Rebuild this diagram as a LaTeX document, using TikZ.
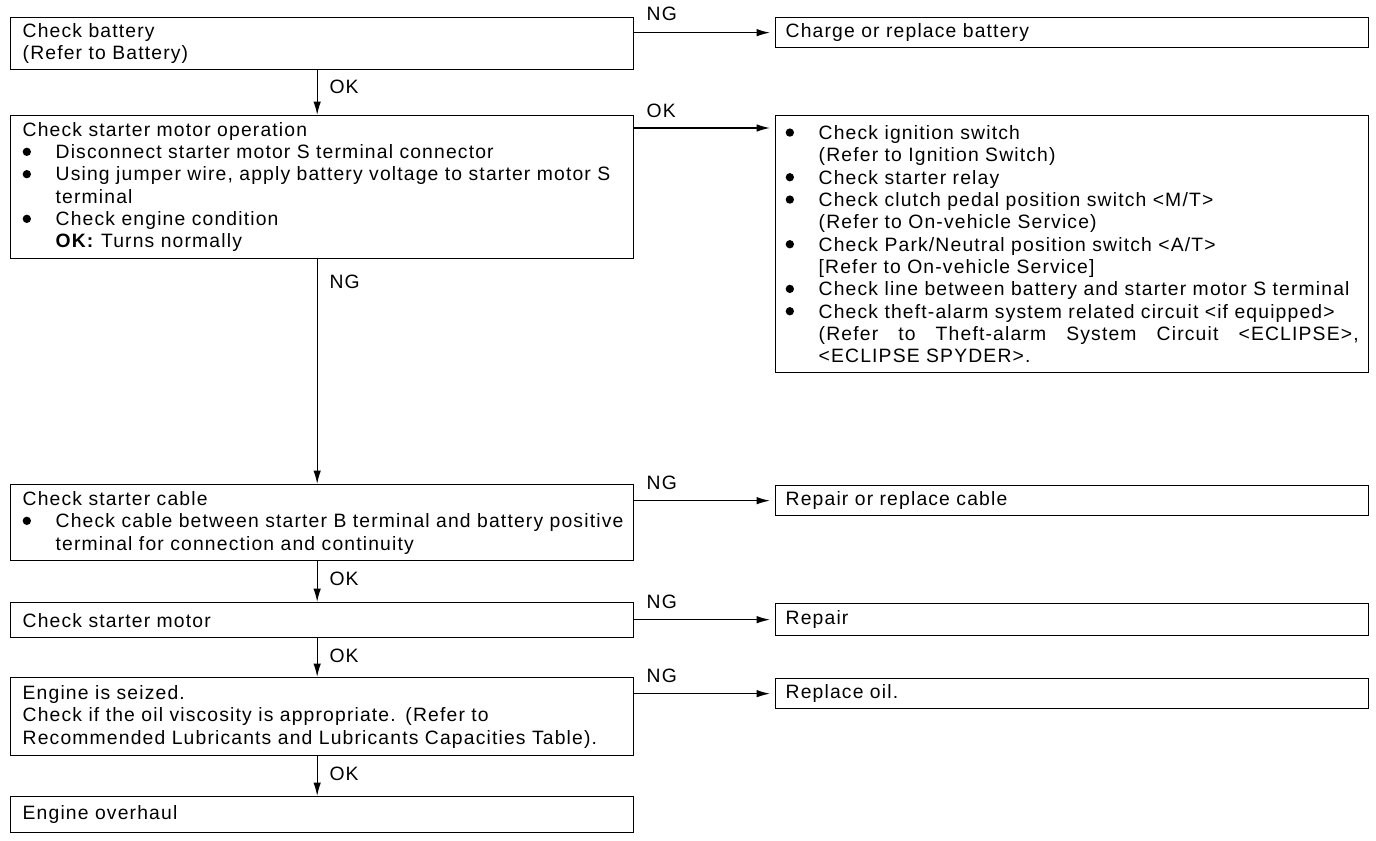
\documentclass[tikz,border=0pt]{standalone}
\usepackage{fontspec}
\setmainfont{Liberation Sans}[LetterSpace=6]
\usetikzlibrary{arrows.meta,positioning}
\newcommand\itm{\makebox[19.8pt][l]{\tikz[baseline=-4.1pt]\fill (0,0) circle (2.5pt);}}
\newcommand\ind{\hspace*{19.8pt}}

\begin{document}
\begin{tikzpicture}[x=0.6pt,y=-0.6pt,
    lbox/.style={draw,line width=0.8pt,anchor=north west,align=left,text width=359.4pt,inner xsep=7.2pt,inner ysep=2pt,font=\fontsize{11.6}{13.4}\selectfont,minimum height=#1},
    rbox/.style={draw,line width=0.8pt,anchor=north west,align=left,text width=343.8pt,inner xsep=6pt,inner ysep=2pt,font=\fontsize{11.6}{13.4}\selectfont,minimum height=#1},
    lbl/.style={font=\fontsize{11.6}{13.4}\selectfont,inner sep=0pt},
    arr/.style={-{Latex[length=8pt,width=4.5pt]},line width=0.8pt}
]
\useasboundingbox (0,0) rectangle (1376,840);
\node[lbox=31.2pt] (battery) at (10,17) {Check battery\\(Refer to Battery)};
\node[lbox=85.8pt] (motorop) at (10,115) {Check starter motor operation\\
  \itm Disconnect starter motor S terminal connector\\
  \itm Using jumper wire, apply battery voltage to starter motor S\\
  \ind terminal\\
  \itm Check engine condition\\
  \ind\textbf{OK:} Turns normally};
\node[lbox=45.6pt] (cable) at (10,484) {Check starter cable\\
  \itm\mbox{Check cable between starter B terminal and battery positive}\\
  \ind terminal for connection and continuity};
\node[lbox=21pt] (motor) at (10,602) {Check starter motor};
\node[lbox=46.8pt] (seized) at (10,677) {Engine is seized.\\
  Check if the oil viscosity is appropriate. (Refer to\\
  Recommended Lubricants and Lubricants Capacities Table).};
\node[lbox=21.6pt] (overhaul) at (10,796) {Engine overhaul};

\node[rbox=18pt] (charge) at (775,17) {Charge or replace battery};
\node[rbox=154.2pt] (checks) at (775,115) {\itm Check ignition switch\\
  \ind (Refer to Ignition Switch)\\
  \itm Check starter relay\\
  \itm Check clutch pedal position switch <M/T>\\
  \ind (Refer to On-vehicle Service)\\
  \itm Check Park/Neutral position switch <A/T>\\
  \ind [Refer to On-vehicle Service]\\
  \itm\mbox{Check line between battery and starter motor S terminal}\\
  \itm Check theft-alarm system related circuit <if equipped>\\
  \ind\hbox to 324pt{(Refer\hfill to\hfill Theft-alarm\hfill System\hfill Circuit\hfill <ECLIPSE>,}\\
  \ind <ECLIPSE SPYDER>.};
\node[rbox=18pt] (repcable) at (775,485) {Repair or replace cable};
\node[rbox=19.2pt] (repair) at (775,603) {Repair};
\node[rbox=18pt] (oil) at (775,678) {Replace oil.};

\draw[arr] ([xshift=-3pt]battery.south) -- ([xshift=-3pt]motorop.north) node[lbl,pos=0,anchor=north west,xshift=7pt,yshift=-5.7pt] {OK};
\draw[arr] ([xshift=-3pt]motorop.south) -- ([xshift=-3pt]cable.north) node[lbl,pos=0,anchor=north west,xshift=7pt,yshift=-9pt] {NG};
\draw[arr] ([xshift=-3pt]cable.south) -- ([xshift=-3pt]motor.north) node[lbl,pos=0,anchor=north west,xshift=7pt,yshift=-5.7pt] {OK};
\draw[arr] ([xshift=-3pt]motor.south) -- ([xshift=-3pt]seized.north) node[lbl,pos=0,anchor=north west,xshift=7pt,yshift=-5.7pt] {OK};
\draw[arr] ([xshift=-3pt]seized.south) -- ([xshift=-3pt]overhaul.north) node[lbl,pos=0,anchor=north west,xshift=7pt,yshift=-5.7pt] {OK};

\draw[arr] (battery.east |- charge.west) -- ([xshift=-3pt]charge.west) node[lbl,pos=0,anchor=south west,xshift=7pt,yshift=7pt] {NG};
\draw[arr] ([yshift=-7.8pt]motorop.north east) -- ([yshift=-7.8pt,xshift=-3pt]checks.north west) node[lbl,pos=0,anchor=south west,xshift=7pt,yshift=6pt] {OK};
\draw[arr] (cable.east |- repcable.west) -- ([xshift=-3pt]repcable.west) node[lbl,pos=0,anchor=south west,xshift=7pt,yshift=6pt] {NG};
\draw[arr] (motor.east |- repair.west) -- ([xshift=-3pt]repair.west) node[lbl,pos=0,anchor=south west,xshift=7pt,yshift=6pt] {NG};
\draw[arr] (seized.east |- oil.west) -- ([xshift=-3pt]oil.west) node[lbl,pos=0,anchor=south west,xshift=7pt,yshift=6pt] {NG};
\end{tikzpicture}
\end{document}
